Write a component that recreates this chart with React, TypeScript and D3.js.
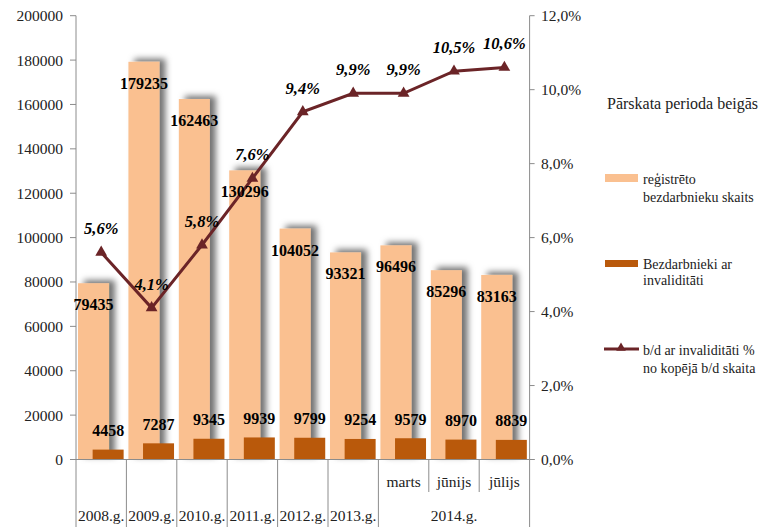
import React from 'react';
import * as d3 from 'd3';

const categories = ['2008', '2009', '2010', '2011', '2012', '2013', '2014-03', '2014-06', '2014-07'];
const monthLabels = ['', '', '', '', '', '', 'marts', 'jūnijs', 'jūlijs'];
const yearGroups = [
  { label: '2008.g.', from: 0, to: 0 },
  { label: '2009.g.', from: 1, to: 1 },
  { label: '2010.g.', from: 2, to: 2 },
  { label: '2011.g.', from: 3, to: 3 },
  { label: '2012.g.', from: 4, to: 4 },
  { label: '2013.g.', from: 5, to: 5 },
  { label: '2014.g.', from: 6, to: 8 },
];
const registered = [79435, 179235, 162463, 130296, 104052, 93321, 96496, 85296, 83163];
const disabled = [4458, 7287, 9345, 9939, 9799, 9254, 9579, 8970, 8839];
const share = [5.6, 4.1, 5.8, 7.6, 9.4, 9.9, 9.9, 10.5, 10.6];
const leftTicks = [0, 20000, 40000, 60000, 80000, 100000, 120000, 140000, 160000, 180000, 200000];
const rightTicks = [0, 2, 4, 6, 8, 10, 12];

const W = 769;
const H = 527;
const plot = { left: 76, right: 529.6, top: 15.7, bottom: 459.5 };
const font = "Liberation Serif, Times New Roman, DejaVu Serif, serif";
const lightColor = '#FAC090';
const darkColor = '#B9590B';
const lineColor = '#6B2427';
const axisColor = '#8C8C8C';

const comma = (v: number) => v.toFixed(1).replace('.', ',');

// every text gets the serif font directly
const T = (props: React.SVGProps<SVGTextElement>) => (
  <text {...props} style={{ fontFamily: font, ...(props.style || {}) }} />
);

export default function App() {
  const x = d3.scaleBand<string>().domain(categories).range([plot.left, plot.right]).padding(0);
  const bw = x.bandwidth();
  const yL = d3.scaleLinear().domain([0, 200000]).range([plot.bottom, plot.top]);
  const yR = d3.scaleLinear().domain([0, 12]).range([plot.bottom, plot.top]);

  const barW = bw * 0.615;
  const lightX = (c: string) => (x(c) as number) + bw * 0.04;
  const darkX = (c: string) => (x(c) as number) + bw * 0.33;
  const cx = (c: string) => (x(c) as number) + bw / 2;

  const line = d3
    .line<number>()
    .x((_, i) => cx(categories[i]))
    .y((d) => yR(d));

  const tri = d3.symbol().type(d3.symbolTriangle).size(60)();

  return (
    <svg width={W} height={H} style={{ position: 'absolute', left: 0, top: 0, background: '#fff' }}>
      <defs>
        <filter id="shadow" x="-30%" y="-10%" width="180%" height="120%">
          <feGaussianBlur in="SourceAlpha" stdDeviation={3} />
          <feOffset dx={6} dy={-3} result="blur" />
          <feFlood floodColor="#000" floodOpacity={0.55} />
          <feComposite in2="blur" operator="in" />
          <feMerge>
            <feMergeNode />
            <feMergeNode in="SourceGraphic" />
          </feMerge>
        </filter>
      </defs>

      {/* axes */}
      <line x1={plot.left} x2={plot.left} y1={plot.top} y2={H} stroke={axisColor} />
      <line x1={plot.right} x2={plot.right} y1={plot.top} y2={H} stroke={axisColor} />
      {leftTicks.map((t) => (
        <g key={t}>
          <line x1={plot.left - 6} x2={plot.left} y1={yL(t)} y2={yL(t)} stroke={axisColor} />
          <T x={63} y={yL(t) + 5.5} textAnchor="end" fontSize={15.5} fill="#222">
            {t}
          </T>
        </g>
      ))}
      {rightTicks.map((t) => (
        <g key={t}>
          <line x1={plot.right} x2={plot.right + 5} y1={yR(t)} y2={yR(t)} stroke={axisColor} />
          <T x={541} y={yR(t) + 5.5} fontSize={15.5} fill="#222">
            {comma(t) + '%'}
          </T>
        </g>
      ))}

      {/* category axis */}
      {categories.map((c, i) =>
        i > 0 ? (
          <line
            key={c}
            x1={x(c)}
            x2={x(c)}
            y1={plot.bottom}
            y2={yearGroups.some((g) => g.from === i) ? H : 492}
            stroke={axisColor}
          />
        ) : null
      )}
      {categories.map((c, i) => (
        <T key={c} x={cx(c)} y={487} textAnchor="middle" fontSize={15.5} fill="#222">
          {monthLabels[i]}
        </T>
      ))}
      {yearGroups.map((g) => (
        <T
          key={g.label}
          x={((x(categories[g.from]) as number) + (x(categories[g.to]) as number) + bw) / 2}
          y={521}
          textAnchor="middle"
          fontSize={15.5}
          fill="#222"
        >
          {g.label}
        </T>
      ))}

      {/* bars */}
      {categories.map((c, i) => (
        <rect
          key={c}
          x={lightX(c)}
          y={yL(registered[i])}
          width={barW}
          height={plot.bottom - yL(registered[i])}
          fill={lightColor}
          filter="url(#shadow)"
        />
      ))}
      {categories.map((c, i) => (
        <rect key={c} x={darkX(c)} y={yL(disabled[i])} width={barW} height={plot.bottom - yL(disabled[i])} fill={darkColor} />
      ))}
      <line x1={plot.left} x2={plot.right + 5} y1={plot.bottom} y2={plot.bottom} stroke={axisColor} />

      {/* line */}
      <path d={line(share) ?? ''} fill="none" stroke={lineColor} strokeWidth={3} />
      {share.map((v, i) => (
        <path key={i} d={tri ?? ''} transform={`translate(${cx(categories[i])},${yR(v)})`} fill={lineColor} />
      ))}

      {/* labels */}
      {categories.map((c, i) => (
        <T key={c} x={lightX(c) + barW / 2} y={yL(registered[i]) + 27} textAnchor="middle" fontSize={16} fontWeight="bold">
          {registered[i]}
        </T>
      ))}
      {categories.map((c, i) => (
        <T key={c} x={darkX(c) + barW / 2} y={yL(disabled[i]) - 13.5} textAnchor="middle" fontSize={16} fontWeight="bold">
          {disabled[i]}
        </T>
      ))}
      {share.map((v, i) => (
        <T
          key={i}
          x={cx(categories[i])}
          y={yR(v) - 18}
          textAnchor="middle"
          fontSize={16.5}
          fontWeight="bold"
          fontStyle="italic"
        >
          {comma(v) + '%'}
        </T>
      ))}

      {/* legend */}
      <T x={607} y={109} fontSize={16} fill="#222">
        Pārskata perioda beigās
      </T>
      <rect x={605} y={174} width={33} height={8} fill={lightColor} />
      <T fontSize={14} fill="#222">
        <tspan x={643} y={184}>reģistrēto</tspan>
        <tspan x={643} y={202}>bezdarbnieku skaits</tspan>
      </T>
      <rect x={605} y={260} width={33} height={7} fill={darkColor} />
      <T fontSize={14} fill="#222">
        <tspan x={643} y={269}>Bezdarbnieki ar</tspan>
        <tspan x={643} y={285}>invaliditāti</tspan>
      </T>
      <line x1={604} x2={639} y1={349} y2={349} stroke={lineColor} strokeWidth={3} />
      <path d={d3.symbol().type(d3.symbolTriangle).size(40)() ?? ''} transform="translate(621,348)" fill={lineColor} />
      <T fontSize={14} fill="#222">
        <tspan x={643} y={355}>b/d ar invaliditāti %</tspan>
        <tspan x={643} y={373}>no kopējā b/d skaita</tspan>
      </T>
    </svg>
  );
}
